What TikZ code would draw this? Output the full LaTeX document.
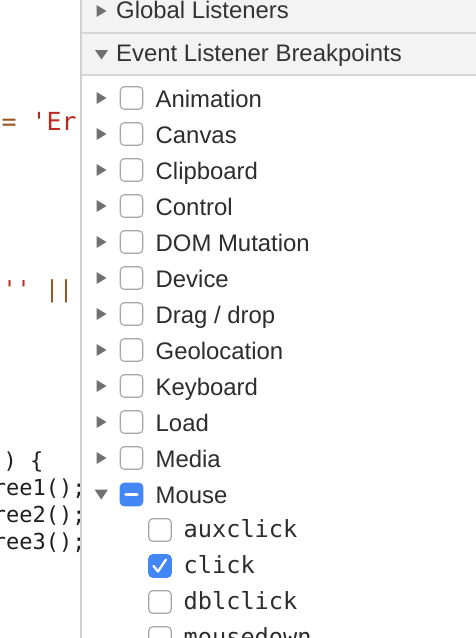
\documentclass[tikz,border=0pt]{standalone}
\usepackage{fontspec}
\setmainfont{Liberation Sans}
\setmonofont{DejaVu Sans Mono}
\definecolor{divider}{RGB}{208,208,208}
\definecolor{hdrbg}{RGB}{243,243,243}
\definecolor{hdrline}{RGB}{214,214,214}
\definecolor{hdrtext}{RGB}{51,51,51}
\definecolor{itemtext}{RGB}{45,45,45}
\definecolor{trigray}{RGB}{112,112,112}
\definecolor{boxgray}{RGB}{165,165,165}
\definecolor{cbblue}{RGB}{66,135,245}
\definecolor{codered}{RGB}{190,40,35}
\definecolor{codebrown}{RGB}{155,85,30}
\definecolor{codeblack}{RGB}{30,30,30}
\tikzset{
  tri/.style={fill=trigray, draw=none},
  cbox/.style={draw=boxgray, line width=1.1pt, fill=white, rounded corners=4pt,
    minimum width=22.5pt, minimum height=22.5pt, inner sep=0pt, outer sep=0pt},
  cboxon/.style={cbox, draw=cbblue, fill=cbblue},
  item/.style={anchor=base west, inner sep=0pt, text=itemtext,
    font=\fontsize{23.9}{28}\selectfont},
  hdr/.style={item, text=hdrtext},
  subitem/.style={anchor=base west, inner sep=0pt, text=itemtext,
    font=\ttfamily\fontsize{23.6}{28}\selectfont},
  code/.style={anchor=base west, inner sep=0pt, text=codeblack},
}
\begin{document}
\begin{tikzpicture}[x=1pt,y=-1pt]
\useasboundingbox (0,0) rectangle (476,638);
\fill[white] (0,0) rectangle (476,638);

% ---- code pane ----
\begin{scope}
\clip (0,0) rectangle (79.5,638);
\node[code, text=codebrown, font=\ttfamily\fontsize{24.9}{30}\selectfont] (c1a) at (1.5,130) {=};
\node[code, text=codered, font=\ttfamily\fontsize{24.9}{30}\selectfont] (c1b) at (31.5,130) {{\char"27}Err};
\node[code, text=codered, font=\ttfamily\fontsize{23.3}{28}\selectfont] (c2a) at (2.5,297.5) {{\char"27}{\char"27}};
\node[code, text=codebrown, font=\ttfamily\fontsize{23.3}{28}\selectfont] (c2b) at (45,297.5) {||};
\node[code, font=\ttfamily\fontsize{22}{27}\selectfont] (c3) at (3.4,468) {) \{};
\node[code, font=\ttfamily\fontsize{22}{27}\selectfont] (c4) at (-7.4,495) {ree1();};
\node[code, font=\ttfamily\fontsize{22}{27}\selectfont] (c5) at (-7.4,522) {ree2();};
\node[code, font=\ttfamily\fontsize{22}{27}\selectfont] (c6) at (-7.4,549) {ree3();};
\end{scope}

% ---- headers ----
\fill[hdrbg] (82,0) rectangle (476,74);
\draw[hdrline, line width=2pt] (82,33) -- (476,33);
\draw[hdrline, line width=2pt] (82,75) -- (476,75);
\draw[divider, line width=2pt] (81,0) -- (81,638);

\fill[tri] (96.5,5) -- (96.5,17) -- (106.5,11) -- cycle;
\node[hdr] (h1) at (116,18.5) {Global Listeners};
\fill[tri] (95,50) -- (108,50) -- (101.5,59.5) -- cycle;
\node[hdr] (h2) at (116,61.5) {Event Listener Breakpoints};

% ---- categories ----
\foreach \name [count=\i from 0] in {Animation,Canvas,Clipboard,Control,DOM Mutation,Device,Drag / drop,Geolocation,Keyboard,Load,Media} {
  \pgfmathsetmacro\yc{98+36*\i}
  \fill[tri] (96.5,\yc-6) -- (96.5,\yc+6) -- (106.5,\yc) -- cycle;
  \node[cbox] (cb\i) at (131.5,\yc) {};
  \node[item] (lbl\i) at (155.5,\yc+9) {\name};
}

% Mouse (expanded, partially checked)
\fill[tri] (94.5,489.5) -- (108,489.5) -- (101.25,499.5) -- cycle;
\node[cboxon] (cbm) at (131.5,494.5) {};
\draw[white, line width=3.6pt, line cap=round] (126,494.5) -- (137,494.5);
\node[item] (lblm) at (155.5,503) {Mouse};

% Mouse sub-items
\node[cbox] (sb0) at (160,530) {};
\node[subitem] (sl0) at (183.5,537) {auxclick};
\node[cboxon] (sb1) at (160,566) {};
\draw[white, line width=2.3pt, line cap=round, line join=round] (153.5,566) -- (158,571.5) -- (166,559.5);
\node[subitem] (sl1) at (183.5,573) {click};
\node[cbox] (sb2) at (160,602) {};
\node[subitem] (sl2) at (183.5,609) {dblclick};
\node[cbox] (sb3) at (160,638) {};
\node[subitem] (sl3) at (183.5,645) {mousedown};
\end{tikzpicture}
\end{document}
